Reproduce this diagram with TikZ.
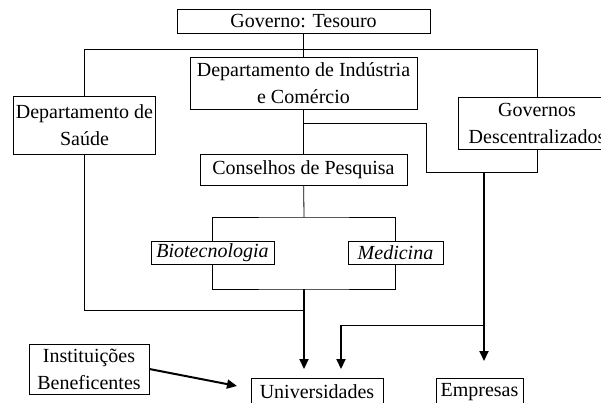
\documentclass[tikz,border=0pt]{standalone}
\usepackage{fontspec}
\setmainfont{Liberation Serif}
\usetikzlibrary{arrows.meta}
\begin{document}
\begin{tikzpicture}[x=1pt,y=-1pt,
  box/.style={draw,line width=0.8pt,inner sep=0pt,align=center,font=\fontsize{20}{27}\selectfont},
  link/.style={line width=0.8pt},
  flow/.style={line width=2pt,-{Triangle[length=10pt,width=9pt]}}]
\useasboundingbox (0,0) rectangle (601,402);
\clip (0,0) rectangle (601,402);
%boxes
\node[box,minimum width=253pt,minimum height=24pt] (gov) at (303.5,21) {Governo: Tesouro};
\node[box,minimum width=227pt,minimum height=52pt] (dic) at (303.5,83) {Departamento de Indústria\\e Comércio};
\node[box,minimum width=142pt,minimum height=58pt] (saude) at (84.5,125) {Departamento de\\Saúde};
\node[box,minimum width=158pt,minimum height=52pt] (gd) at (537,123) {Governos\\Descentralizados};
\node[box,minimum width=207pt,minimum height=31pt] (cons) at (303.5,169.5) {Conselhos de Pesquisa};
\node[box,font=\fontsize{20}{27}\selectfont\itshape,minimum width=123pt,minimum height=23pt] (bio) at (212.5,252.5) {Biotecnologia};
\node[box,font=\fontsize{20}{27}\selectfont\itshape,minimum width=95pt,minimum height=23pt] (med) at (395.5,252.5) {Medicina};
\node[box,minimum width=120pt,minimum height=50pt] (inst) at (89,369) {Instituições\\Beneficentes};
\node[box,minimum width=132pt,minimum height=28pt] (univ) at (317,392) {Universidades};
\node[box,minimum width=87pt,minimum height=28pt] (emp) at (479.5,392) {Empresas};
%points
\coordinate (split) at (304,49);
\coordinate (dicb) at (304,123);
\coordinate (bend) at (426,172);
\coordinate (gdout) at (484,172);
\coordinate (empin) at (484,361);
\coordinate (fork) at (304,217);
\coordinate (join) at (304,289);
\coordinate (sjoin) at (304,310);
\coordinate (univin) at (304,369);
\coordinate (gdarm) at (484,325);
\coordinate (ubend) at (341,325);
\coordinate (univin2) at (341,369);
\coordinate (instin) at (237,386);
%lines
\draw[link] (gov) -- (dic);
\draw[link] (saude.north) -- (saude.north |- split) -| (gd.north);
\draw[link] (dic) -- (cons);
\draw[link] (dicb) -| (bend) -| (gd.south);
\draw[link] (cons) -- (fork);
\draw[link] (bio.north) |- (fork) -| (med.north);
\draw[link] (bio.south) |- (join) -| (med.south);
\draw[link] (saude.south) |- (sjoin);
\draw[link] (gdarm) -- (ubend);
%arrows
\draw[flow] (gdout) -- (empin);
\draw[flow] (join) -- (univin);
\draw[flow] (ubend) -- (univin2);
\draw[flow] (inst.east) -- (instin);
\end{tikzpicture}
\end{document}
